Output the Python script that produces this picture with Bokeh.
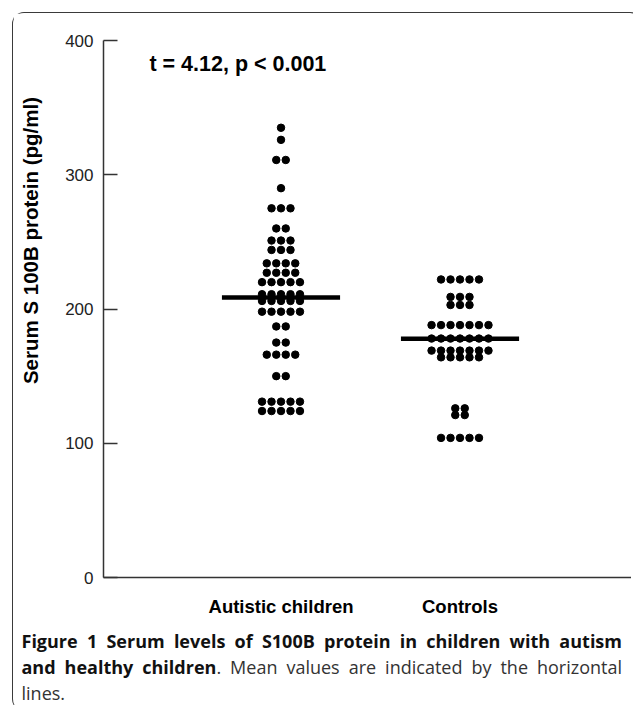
import numpy as np
from bokeh.plotting import figure
from bokeh.models import Range1d, FixedTicker, Label, Div, ColumnDataSource
from bokeh.layouts import column, row
from bokeh.embed import file_html
from bokeh.resources import INLINE

# ---------------- data ----------------
categories = ["Autistic children", "Controls"]
autistic = [335, 326, 311, 311, 290, 275, 275, 275, 260, 260,
            251, 251, 251, 244, 244, 244, 234, 234, 234, 234,
            227, 227, 227, 227, 220, 220, 220, 220, 220,
            211, 211, 211, 211, 211, 206, 206, 206, 206, 206,
            198, 198, 198, 198, 198, 187, 187, 175, 175,
            166, 166, 166, 166, 150, 150,
            131, 131, 131, 131, 131, 124, 124, 124, 124, 124]
controls = [222, 222, 222, 222, 222, 209, 209, 209, 203, 203, 203,
            188, 188, 188, 188, 188, 188, 188,
            178, 178, 178, 178, 178, 178, 178,
            169, 169, 169, 169, 169, 169, 169,
            164, 164, 164, 164, 164,
            126, 126, 121, 121, 104, 104, 104, 104, 104]
means = [208.5, 177.8]
y_ticks = [0, 100, 200, 300, 400]
y_label = "Serum S 100B protein (pg/ml)"
y_label_center = 251          # value at which the y title is centred
stat_text = "t = 4.12, p < 0.001"

# ---------------- layout helpers ----------------
DX = 0.053        # horizontal spacing between dots of one row (data units)
HALF = 0.33       # half length of the mean bars (data units)
TOP, BOTTOM, H = 27, 45, 609


def swarm(values, center):
    xs, ys = [], []
    vals = np.array(values, dtype=float)
    for v in sorted(set(values), reverse=True):
        n = int(np.sum(vals == v))
        offs = (np.arange(n) - (n - 1) / 2.0) * DX
        xs.extend(center + offs)
        ys.extend([v] * n)
    return xs, ys


xa, ya = swarm(autistic, 1)
xc, yc = swarm(controls, 2)
dots = ColumnDataSource(dict(x=xa + xc, y=ya + yc))
centers = [1, 2]
bars = ColumnDataSource(dict(x0=[c - HALF for c in centers],
                             x1=[c + HALF for c in centers],
                             y=means))

yr = Range1d(0, 400)

# narrow strip that carries the y title, sharing the y range of the chart
t = figure(width=46, height=H, x_range=Range1d(0, 1), y_range=yr,
           output_backend="svg", toolbar_location=None,
           x_axis_location=None, y_axis_location=None,
           min_border_left=0, min_border_right=0,
           min_border_top=TOP, min_border_bottom=BOTTOM)
t.xgrid.visible = False
t.ygrid.visible = False
t.outline_line_color = None
t.border_fill_color = "white"
t.background_fill_color = "white"
t.text(x=[0.36], y=[y_label_center], text=[y_label], angle=np.pi / 2,
       text_align="center", text_baseline="middle",
       text_font={"value": "Liberation Sans"}, text_font_size="20.5px",
       text_font_style="bold", text_color="black")

p = figure(width=572, height=H, x_range=Range1d(0.0084, 2.958),
           y_range=yr, output_backend="svg",
           toolbar_location=None, min_border_left=44, min_border_right=0,
           min_border_top=TOP, min_border_bottom=BOTTOM)
p.xgrid.visible = False
p.ygrid.visible = False
p.outline_line_color = None
p.background_fill_color = "white"
p.border_fill_color = "white"

p.scatter("x", "y", source=dots, size=7.5, color="black")
p.segment("x0", "y", "x1", "y", source=bars, line_width=4.5, color="black")

# y axis
ya_ = p.yaxis[0]
ya_.ticker = FixedTicker(ticks=y_ticks)
ya_.major_tick_in = 14
ya_.major_tick_out = 0
ya_.minor_tick_in = 0
ya_.minor_tick_out = 0
ya_.major_label_standoff = 10
ya_.axis_line_width = 1.5
ya_.axis_line_color = "#333333"
ya_.major_tick_line_width = 1.5
ya_.major_tick_line_color = "#333333"
ya_.major_label_text_font = "Liberation Sans"
ya_.major_label_text_font_size = "17px"
ya_.major_label_text_color = "#222222"

# x axis
xa_ = p.xaxis[0]
xa_.ticker = FixedTicker(ticks=centers)
xa_.major_label_overrides = {c: name for c, name in zip(centers, categories)}
xa_.major_tick_in = 0
xa_.major_tick_out = 0
xa_.minor_tick_in = 0
xa_.minor_tick_out = 0
xa_.major_label_standoff = 18
xa_.axis_line_width = 1.5
xa_.axis_line_color = "#333333"
xa_.major_label_text_font = "Liberation Sans"
xa_.major_label_text_font_size = "18.5px"
xa_.major_label_text_font_style = "bold"
xa_.major_label_text_color = "black"

p.add_layout(Label(x=0.265, y=382.5, text=stat_text, text_font="Liberation Sans",
                   text_font_size="21.5px", text_font_style="bold",
                   text_color="black", text_baseline="middle", text_align="left"))

cap_html = (
    '<div style="font-family:\'Open Sans\';font-size:18px;line-height:26px;'
    'padding:1px 0 0 3.5px;color:#333;width:604px;">'
    '<div style="text-align:justify;text-align-last:justify;color:#111;">'
    '<b>Figure 1 Serum levels of S100B protein in children with autism</b></div>'
    '<div style="text-align:justify;text-align-last:justify;">'
    '<b style="color:#111;">and healthy children</b>. Mean values are indicated by the horizontal</div>'
    '<div>lines.</div></div>'
)
cap = Div(text=cap_html, width=618, height=79)

layout = column(row(t, p), cap, margin=(12, 0, 0, 12),
                styles={"border": "1.5px solid #3a3a3a", "border-bottom": "none",
                        "border-radius": "12px", "background": "white"})

open("out.html", "w").write(file_html(layout, INLINE))
